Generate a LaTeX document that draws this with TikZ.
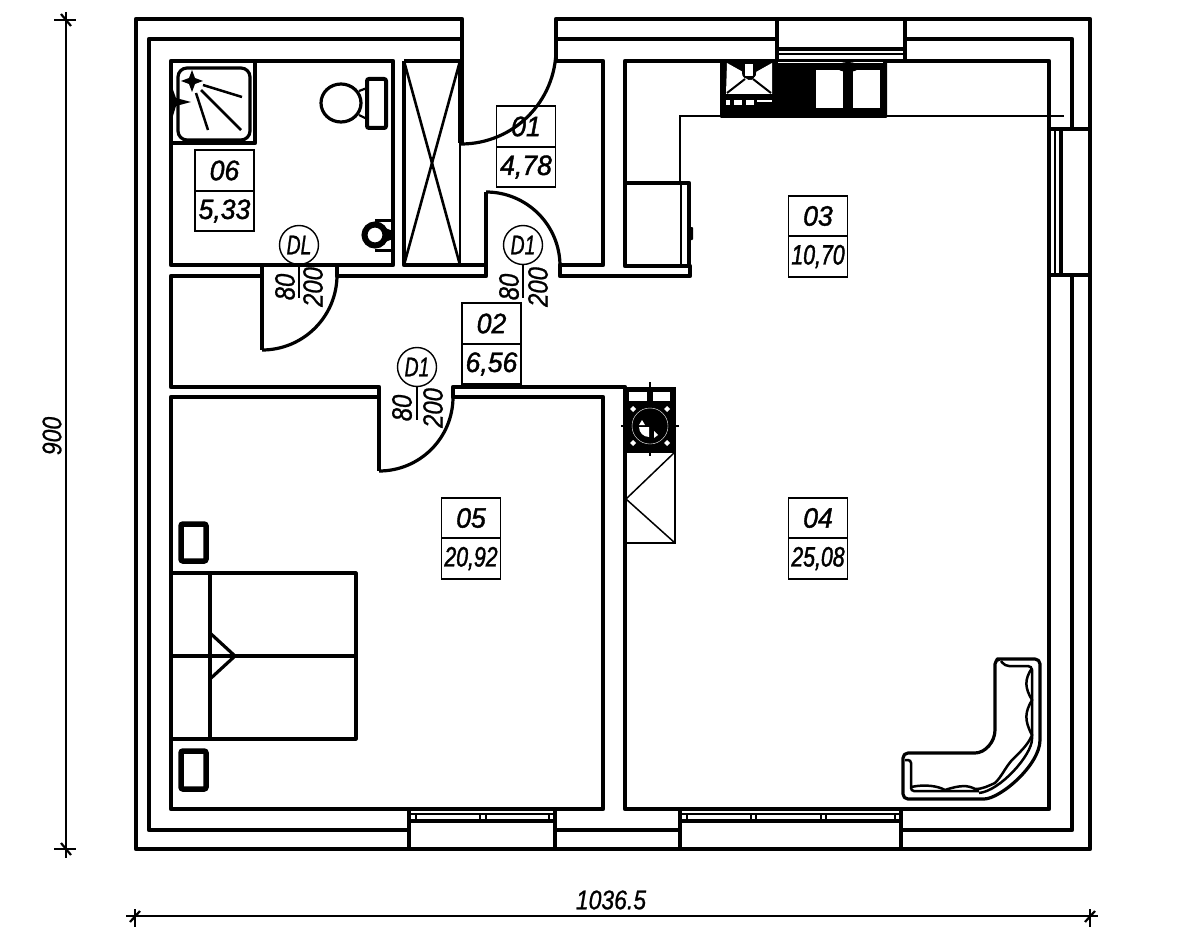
\documentclass[tikz,border=0pt]{standalone}
\usepackage{fontspec}
\newfontfamily\cadfont[FakeStretch=0.85,FakeBold=0.8]{Liberation Sans}
\newfontfamily\roomfont[FakeStretch=0.95,FakeBold=1.4]{Liberation Sans}
\newfontfamily\narrowfont[FakeStretch=0.76,FakeBold=1.4]{Liberation Sans}
\newfontfamily\tagfont[FakeStretch=0.72,FakeBold=0.8]{Liberation Sans}
\tikzset{
  wall/.style={line width=4.5pt, line join=round},
  part/.style={line width=3.2pt, line join=round},
  fine/.style={line width=2.2pt},
  roomcell/.style={draw, line width=1.8pt, minimum width=59pt, minimum height=40.5pt, inner sep=0pt, font=\roomfont\itshape\fontsize{28}{28}\selectfont},
  narrowcell/.style={roomcell, font=\narrowfont\itshape\fontsize{28}{28}\selectfont},
  doortag/.style={circle, draw, line width=1.4pt, minimum size=39pt, inner sep=0pt, font=\tagfont\itshape\fontsize{27}{27}\selectfont},
  doorsize/.style={rotate=90, inner sep=0pt, font=\cadfont\itshape\fontsize{28}{28}\selectfont},
  dimtext/.style={inner sep=0pt, font=\cadfont\itshape\fontsize{27}{27}\selectfont}
}
\begin{document}
\begin{tikzpicture}[x=1pt, y=-1pt]
  \useasboundingbox (0,0) rectangle (1181,947);

  % outer walls
  \draw[wall] (462,143) -- (462,19) -- (136,19) -- (136,849) -- (1090,849) -- (1090,19) -- (556,19) -- (556,61);
  \draw[wall] (462,39) -- (149,39) -- (149,830) -- (409,830);
  \draw[wall] (556,830) -- (680,830);
  \draw[wall] (901,830) -- (1072,830) -- (1072,275);
  \draw[wall] (1072,129) -- (1072,39) -- (905,39);
  \draw[wall] (777,39) -- (556,39);

  % rooms
  \draw[wall] (171,61) rectangle (393,265);
  \draw[wall] (404,61) -- (404,265) -- (486,265);
  \draw[wall] (404,61) -- (460,61);
  \draw[wall] (556,61) -- (603,61) -- (603,265) -- (560,265) -- (560,276) -- (690,276) -- (690,266) -- (625,266) -- (625,61) -- (777,61);
  \draw[wall] (905,61) -- (1049,61) -- (1049,809) -- (901,809);
  \draw[wall] (680,809) -- (625,809) -- (625,387) -- (453,387) -- (453,397) -- (603,397) -- (603,809) -- (555,809);
  \draw[wall] (409,809) -- (171,809) -- (171,397) -- (379,397) -- (379,387) -- (171,387) -- (171,276) -- (262,276) -- (262,265) -- (171,265);
  \draw[wall] (393,265) -- (337,265) -- (337,276) -- (486,276) -- (486,192);

  % doors
  \draw[part] (461,144) arc[start angle=-90, end angle=0, radius=95pt];
  \draw[part] (486,192) arc[start angle=90, end angle=0, radius=74pt];
  \draw[wall] (262,276) -- (262,350);
  \draw[part] (262,350) arc[start angle=-90, end angle=0, radius=75pt];
  \draw[wall] (379,397) -- (379,471);
  \draw[part] (379,471) arc[start angle=-90, end angle=0, radius=74pt];

  % shaft
  \draw[line width=2.6pt] (404,61) -- (460,265);
  \draw[line width=2.6pt] (460,61) -- (404,265);
  \draw[fine] (460,143) -- (460,265);
  \draw[wall] (460,61) -- (460,143);

  % windows
  \draw[wall] (409,809) -- (409,849);
  \draw[wall] (555,809) -- (555,849);
  \draw[wall] (680,809) -- (680,849);
  \draw[wall] (901,809) -- (901,849);
  \draw[wall] (777,19) -- (777,61);
  \draw[wall] (905,19) -- (905,61);
  \draw[wall] (1049,129) -- (1090,129);
  \draw[wall] (1049,275) -- (1090,275);
  \draw[wall] (409,809) -- (555,809);
  \draw[wall] (680,809) -- (901,809);
  \draw[wall] (777,61) -- (905,61);
  \draw[fine] (409,814) -- (555,814);
  \draw[wall] (409,821) -- (555,821);
  \draw[fine] (680,814) -- (901,814);
  \draw[wall] (680,821) -- (901,821);
  \draw[fine] (777,54) -- (905,54);
  \draw[wall] (777,49) -- (905,49);
  \draw[fine] (1055,129) -- (1055,275);
  \draw[wall] (1061,129) -- (1061,275);
  \draw[fine] (416,814) -- (416,821);
  \draw[fine] (480,814) -- (480,821);
  \draw[fine] (486,814) -- (486,821);
  \draw[fine] (549,814) -- (549,821);
  \draw[fine] (687,814) -- (687,821);
  \draw[fine] (751,814) -- (751,821);
  \draw[fine] (756,814) -- (756,821);
  \draw[fine] (821,814) -- (821,821);
  \draw[fine] (826,814) -- (826,821);
  \draw[fine] (895,814) -- (895,821);

  % shower
  \draw[wall] (171,143) -- (255,143) -- (255,61);
  \draw[part, rounded corners=9pt] (178,68) rectangle (250,140);
  \draw[line width=2.5pt] (203,85) -- (242,97);
  \draw[line width=2.5pt] (201,90) -- (241,130);
  \draw[line width=2.5pt] (196,93) -- (208,130);
  \fill (192,70) -- (195,78) -- (203,81) -- (195,84) -- (192,92) -- (189,84) -- (181,81) -- (189,78) -- cycle;
  \fill (172,87) -- (176,98) -- (191,102) -- (176,106) -- (172,119) -- cycle;

  % toilet
  \draw[part] (341,103) ellipse [x radius=20pt, y radius=19pt];
  \draw[line width=4pt, rounded corners=2pt] (367,79) rectangle (386,128);
  \draw[fine] (359,91) -- (367,88);
  \draw[fine] (359,115) -- (367,119);

  % bidet
  \draw[line width=6pt] (375,235) circle [radius=10.5pt];
  \draw[line width=3pt] (375,220) -- (395,220);
  \draw[line width=3pt] (375,250) -- (395,250);
  \fill (385,228) -- (393,231) -- (393,239) -- (385,242) -- cycle;

  % kitchen top
  \draw[fine] (1064,116) -- (680,116) -- (680,183);
  \fill[rounded corners=1pt] (720,61) rectangle (887,118);
  \fill[white] (778,61.8) rectangle (883,63.2);
  \fill[white] (727,63) -- (743,72) -- (743,75) -- (748,80) -- (752,80) -- (756,75) -- (756,72) -- (772,63) -- (772,94) -- (726,94) -- cycle;
  \fill[white] (745,64) rectangle (753,76);
  \draw[line width=2pt] (743,63) -- (743,73) .. controls (743,80) and (755,80) .. (755,73) -- (755,63);
  \draw[line width=2pt] (727,93) -- (745,79);
  \draw[line width=2pt] (771,93) -- (753,79);
  \fill[white] (816,70) rectangle (843,108);
  \fill[white] (853,70) rectangle (880,108);
  \fill (848,67) ellipse [x radius=11pt, y radius=5pt];
  \fill[white] (726,100) rectangle (730,105);
  \fill[white] (734,100) rectangle (742,105);
  \fill[white] (746,100) rectangle (754,105);
  \fill[white] (757,100) rectangle (772,102);

  % fridge
  \draw[wall] (625,183) -- (689,183) -- (689,266);
  \draw[fine] (681,183) -- (681,266);
  \fill[rounded corners=1pt] (687,227) rectangle (693,240);

  % stove and counter
  \fill (625,387) rectangle (676,452);
  \draw[fine] (650,382) -- (650,456);
  \draw[fine] (621,426) -- (679,426);
  \fill[white] (629,392) rectangle (647,401);
  \fill[white] (653,392) rectangle (670,401);
  \fill[white] (633,406) -- (636,409) -- (633,412) -- (630,409) -- cycle;
  \fill[white] (667,406) -- (670,409) -- (667,412) -- (664,409) -- cycle;
  \fill[white] (633,440) -- (636,443) -- (633,446) -- (630,443) -- cycle;
  \fill[white] (667,440) -- (670,443) -- (667,446) -- (664,443) -- cycle;
  \draw[white, line width=0.4pt] (650,426) circle [radius=18pt];
  \fill[white] (649,427) -- (639,427) arc[start angle=180, end angle=270, radius=10pt] -- cycle;
  \fill[white] (642,420) -- (645,425) -- (639,425) -- cycle;
  \fill[white] (654,431) -- (658,435) -- (654,438) -- cycle;
  \draw[fine] (625,452) rectangle (675,543);
  \draw[line width=1.5pt] (675,452) -- (626,499) -- (675,543);

  % bed
  \draw[part] (171,573) -- (356,573) -- (356,739) -- (171,739);
  \draw[part] (171,656) -- (356,656);
  \draw[part] (210,573) -- (210,739);
  \draw[part] (210,633) -- (235,656) -- (210,679);
  \draw[line width=5.5pt, rounded corners=2pt] (181,524) rectangle (206,561);
  \draw[line width=5.5pt, rounded corners=2pt] (181,751) rectangle (206,789);

  % sofa
  \draw[part, rounded corners=5pt] (1002,659) -- (995,659) -- (995,725) .. controls (995,742) and (985,753) .. (970,753) -- (903,753) -- (903,799) -- (979,799) .. controls (1000,799) and (1040,765) .. (1040,735) -- (1040,659) -- cycle;
  \draw[line width=2.5pt, rounded corners=4pt] (1001,661) -- (1005,666) -- (1032,666) -- (1032,735) .. controls (1032,755) and (1000,791) .. (979,793);
  \draw[line width=2.5pt, rounded corners=3pt] (905,760) -- (911,760) -- (911,791) -- (979,791);
  \draw[line width=2.5pt] (1032,668) .. controls (1024,680) and (1025,688) .. (1032,700) .. controls (1025,712) and (1024,720) .. (1032,735) .. controls (1028,745) and (1020,752) .. (1012,760) .. controls (1005,768) and (1002,776) .. (995,783) .. controls (988,786) and (983,789) .. (975,789) .. controls (968,785) and (960,785) .. (945,790) .. controls (938,786) and (925,784) .. (911,787);

  % room numbers
  \node[roomcell] (roomA) at (526,126.5) {01};
  \node[roomcell] (areaA) at (526,167) {4,78};
  \node[roomcell] (roomB) at (491.5,323.5) {02};
  \node[roomcell] (areaB) at (491.5,364) {6,56};
  \node[roomcell] (roomC) at (818,216) {03};
  \node[narrowcell] (areaC) at (818,256.5) {10,70};
  \node[roomcell] (roomD) at (818,518) {04};
  \node[narrowcell] (areaD) at (818,558.5) {25,08};
  \node[roomcell] (roomE) at (471,518) {05};
  \node[narrowcell] (areaE) at (471,558.5) {20,92};
  \node[roomcell] (roomF) at (224.5,170.5) {06};
  \node[roomcell] (areaF) at (224.5,211) {5,33};

  % door tags
  \node[doortag] (tagA) at (299,245) {DL};
  \coordinate (stemA) at (299,298);
  \draw[line width=1.5pt] (tagA) -- (stemA);
  \node[doorsize] (widthA) at (285,287) {80};
  \node[doorsize] (heightA) at (313,287) {200};
  \node[doortag] (tagB) at (523,245) {D1};
  \coordinate (stemB) at (523,298);
  \draw[line width=1.5pt] (tagB) -- (stemB);
  \node[doorsize] (widthB) at (509,287) {80};
  \node[doorsize] (heightB) at (538,287) {200};
  \node[doortag] (tagC) at (417,367) {D1};
  \coordinate (stemC) at (417,420);
  \draw[line width=1.5pt] (tagC) -- (stemC);
  \node[doorsize] (widthC) at (402,408) {80};
  \node[doorsize] (heightC) at (433,408) {200};

  % dimensions
  \draw[fine] (66,12) -- (66,858);
  \draw[fine] (54,20) -- (76,20);
  \draw[fine] (61,14) -- (71,26);
  \draw[fine] (54,849) -- (76,849);
  \draw[fine] (61,843) -- (71,855);
  \node[dimtext, rotate=90] (dimV) at (52,436) {900};
  \draw[fine] (126,916) -- (1098,916);
  \draw[fine] (135,909) -- (135,927);
  \draw[fine] (130,922) -- (140,911);
  \draw[fine] (1090,909) -- (1090,927);
  \draw[fine] (1085,922) -- (1095,911);
  \node[dimtext] (dimH) at (611,900) {1036.5};
\end{tikzpicture}
\end{document}
